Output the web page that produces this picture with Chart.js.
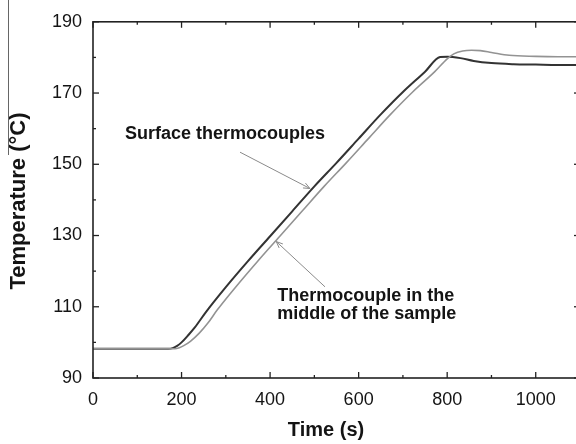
<!DOCTYPE html>
<html>
<head>
<meta charset="utf-8">
<script src="https://cdn.jsdelivr.net/npm/chart.js@4.4.1/dist/chart.umd.min.js"></script>
<style>
  html, body { margin: 0; padding: 0; background: #fff; overflow: hidden; }
  #wrap { position: absolute; left: 0; top: 0; width: 590px; height: 444px; }
</style>
</head>
<body>
<div id="wrap"><canvas id="c" width="590" height="444"></canvas></div>
<script>
// Heating cycle: temperature at the surface and in the middle of the sample
const surfaceTime = [0, 100, 170, 180, 190, 200, 215, 230, 255, 300, 350, 400, 450, 500, 550, 600, 650, 700, 750, 784, 800, 830, 860, 900, 950, 1000, 1050, 1100];
const surfaceTemp = [98.2, 98.2, 98.2, 98.4, 99.0, 100.0, 102.0, 104.2, 108.5, 115.5, 122.8, 129.8, 136.8, 143.8, 150.4, 157.2, 164.0, 170.3, 176.0, 180.1, 180.2, 179.8, 179.0, 178.4, 178.1, 178.0, 177.9, 177.9];

const middleTime = [0, 100, 185, 195, 205, 220, 240, 260, 280, 322, 372, 422, 472, 522, 572, 622, 672, 722, 772, 800, 815, 835, 855, 875, 900, 940, 1000, 1050, 1100];
const middleTemp = [98.2, 98.2, 98.2, 98.5, 99.1, 100.3, 102.6, 105.5, 109.0, 115.5, 122.8, 129.8, 136.8, 143.8, 150.4, 157.2, 164.0, 170.3, 176.0, 179.6, 181.0, 181.8, 182.0, 181.9, 181.4, 180.6, 180.3, 180.2, 180.2];

const xTickLabels = [0, 200, 400, 600, 800, 1000];
const xMinorTicks = [100, 300, 500, 700, 900, 1100];
const yTickLabels = [90, 110, 130, 150, 170, 190];
const yMinorTicks = [100, 120, 140, 160, 180];

const FONT = '"Liberation Sans", Arial, Helvetica, sans-serif';
const INK = '#141414';

const toPoints = (xs, ys) => xs.map((x, i) => ({ x: x, y: ys[i] }));

const frameAndLabels = {
  id: 'frameAndLabels',
  afterDatasetsDraw(chart) {
    const ctx = chart.ctx;
    const xs = chart.scales.x, ys = chart.scales.y;
    const a = chart.chartArea;
    ctx.save();

    // frame
    ctx.strokeStyle = '#222';
    ctx.lineWidth = 1.6;
    ctx.strokeRect(a.left, a.top, a.right - a.left, a.bottom - a.top);

    // inward ticks on all four sides
    ctx.lineWidth = 1.3;
    const tick = (x1, y1, x2, y2) => { ctx.beginPath(); ctx.moveTo(x1, y1); ctx.lineTo(x2, y2); ctx.stroke(); };
    xTickLabels.forEach(v => { const p = xs.getPixelForValue(v); tick(p, a.bottom, p, a.bottom - 6); tick(p, a.top, p, a.top + 6); });
    xMinorTicks.forEach(v => { const p = xs.getPixelForValue(v); tick(p, a.bottom, p, a.bottom - 3); tick(p, a.top, p, a.top + 3); });
    yTickLabels.forEach(v => { const p = ys.getPixelForValue(v); tick(a.left, p, a.left + 6, p); tick(a.right, p, a.right - 6, p); });
    yMinorTicks.forEach(v => { const p = ys.getPixelForValue(v); tick(a.left, p, a.left + 3, p); tick(a.right, p, a.right - 3, p); });

    // annotation arrows
    const arrow = (t0, v0, t1, v1) => {
      const x0 = xs.getPixelForValue(t0), y0 = ys.getPixelForValue(v0);
      const x1 = xs.getPixelForValue(t1), y1 = ys.getPixelForValue(v1);
      ctx.strokeStyle = '#8a8a8a';
      ctx.lineWidth = 1;
      tick(x0, y0, x1, y1);
      const ang = Math.atan2(y1 - y0, x1 - x0);
      const L = 7, w = 0.4;
      ctx.beginPath();
      ctx.moveTo(x1 - L * Math.cos(ang - w), y1 - L * Math.sin(ang - w));
      ctx.lineTo(x1, y1);
      ctx.lineTo(x1 - L * Math.cos(ang + w), y1 - L * Math.sin(ang + w));
      ctx.stroke();
    };
    arrow(332, 153.4, 490, 143.2);
    arrow(524, 115.6, 414, 128.3);

    // annotation text
    ctx.fillStyle = INK;
    ctx.font = 'bold 18px ' + FONT;
    ctx.textAlign = 'left';
    ctx.textBaseline = 'alphabetic';
    ctx.fillText('Surface thermocouples', xs.getPixelForValue(72), ys.getPixelForValue(157));
    ctx.fillText('Thermocouple in the', xs.getPixelForValue(416), ys.getPixelForValue(111.5));
    ctx.fillText('middle of the sample', xs.getPixelForValue(416), ys.getPixelForValue(106.5));

    // axis titles
    ctx.font = 'bold 20px ' + FONT;
    ctx.textAlign = 'center';
    ctx.fillText('Time (s)', 326, 436);
    ctx.save();
    ctx.translate(25, 201);
    ctx.rotate(-Math.PI / 2);
    ctx.font = 'bold 22px ' + FONT;
    ctx.fillText('Temperature (°C)', 0, 0);
    ctx.restore();

    // thin rule at the left edge
    ctx.strokeStyle = '#666';
    ctx.lineWidth = 1;
    tick(8.5, 0, 8.5, 155);

    ctx.restore();
  }
};

new Chart(document.getElementById('c'), {
  type: 'line',
  data: {
    datasets: [
      {
        label: 'Thermocouple in the middle of the sample',
        data: toPoints(middleTime, middleTemp),
        borderColor: '#939393',
        borderWidth: 1.6,
        pointRadius: 0,
        cubicInterpolationMode: 'monotone',
        fill: false
      },
      {
        label: 'Surface thermocouples',
        data: toPoints(surfaceTime, surfaceTemp),
        borderColor: '#333',
        borderWidth: 2,
        pointRadius: 0,
        cubicInterpolationMode: 'monotone',
        fill: false
      }
    ]
  },
  options: {
    responsive: false,
    animation: false,
    events: [],
    layout: { padding: { top: 15, right: 10, bottom: 0, left: 0 } },
    plugins: { legend: { display: false }, tooltip: { enabled: false } },
    scales: {
      x: {
        type: 'linear',
        min: 0,
        max: 1100,
        afterBuildTicks: s => { s.ticks = xTickLabels.map(v => ({ value: v })); },
        afterFit: s => { s.height = 66; },
        grid: { display: false, drawTicks: false },
        border: { display: false },
        ticks: { color: INK, font: { family: FONT, size: 18 }, padding: 11, autoSkip: false, maxRotation: 0, callback: v => String(v) }
      },
      y: {
        type: 'linear',
        min: 90,
        max: 190,
        afterBuildTicks: s => { s.ticks = yTickLabels.map(v => ({ value: v })); },
        afterFit: s => { s.width = 93; },
        grid: { display: false, drawTicks: false },
        border: { display: false },
        ticks: { color: INK, font: { family: FONT, size: 18 }, padding: 11, autoSkip: false, callback: v => String(v) }
      }
    }
  },
  plugins: [frameAndLabels]
});
</script>
</body>
</html>
